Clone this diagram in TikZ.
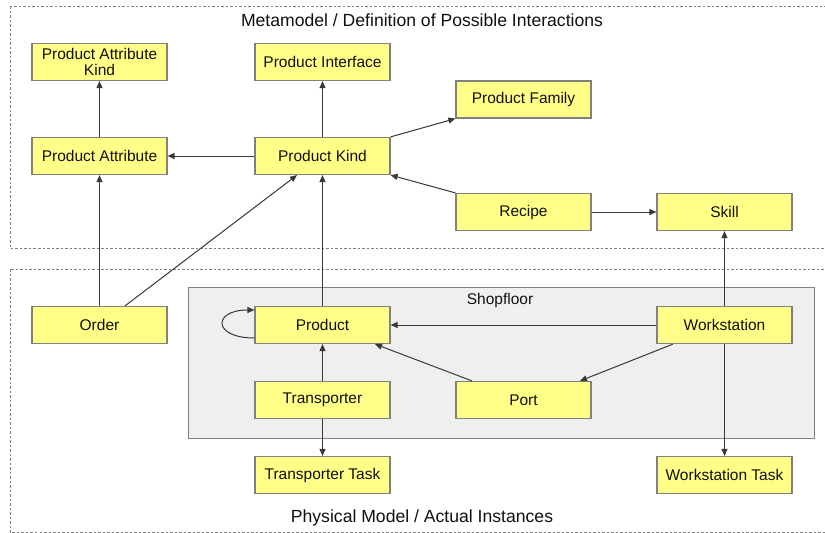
\documentclass[tikz,border=0pt]{standalone}
\usepackage{fontspec}
\setmainfont{Liberation Sans}
\usetikzlibrary{arrows.meta,calc}
\definecolor{boxfill}{HTML}{FFFF88}
\definecolor{boxline}{HTML}{808080}
\definecolor{floorfill}{HTML}{EFEFEF}
\definecolor{lineclr}{HTML}{383838}
\definecolor{txt}{HTML}{111111}
\begin{document}
\begin{tikzpicture}[x=1pt,y=-1pt,
  entity/.style={draw=boxline,line width=1.2pt,fill=boxfill,minimum width=135pt,minimum height=37pt,
    inner sep=1pt,align=center,text=txt,font=\fontsize{15.5}{16}\selectfont},
  arr/.style={draw=lineclr,line width=1pt,-{Triangle[length=7pt,width=6pt]}},
  zone/.style={draw=boxline,line width=1pt,dash pattern=on 2.5pt off 2pt},
  caption/.style={text=txt,font=\fontsize{17.6}{19}\selectfont}]
\useasboundingbox (0,0) rectangle (825,533);
\fill[white] (0,0) rectangle (825,533);

% layers
\draw[zone] (10,6) rectangle (840,248);
\draw[zone] (10,269) rectangle (840,532);
\draw[draw=boxline,line width=1pt,fill=floorfill] (188,287) rectangle (814,438);

\node[caption] (meta) at (422,20) {Metamodel / Definition of Possible Interactions};
\node[caption] (phys) at (422,518) {Physical Model / Actual Instances};
\node[text=txt,font=\fontsize{15.5}{17}\selectfont] (floor) at (500,300) {Shopfloor};

% metamodel entities
\node[entity] (pak) at (99.5,62) {Product Attribute\\Kind};
\node[entity] (pi) at (322.5,62) {Product Interface};
\node[entity] (pf) at (523.5,99.5) {Product Family};
\node[entity] (pa) at (99.5,156) {Product Attribute};
\node[entity] (pk) at (322.5,156) {Product Kind};
\node[entity] (recipe) at (523.5,212) {Recipe};
\node[entity] (skill) at (724.5,212) {Skill};

% instance entities
\node[entity] (order) at (99.5,325) {Order};
\node[entity] (prod) at (322.5,325) {Product};
\node[entity] (ws) at (724.5,325) {Workstation};
\node[entity] (tr) at (322.5,400) {Transporter};
\node[entity] (port) at (523.5,400) {Port};
\node[entity] (tt) at (322.5,475) {Transporter Task};
\node[entity] (wt) at (724.5,475) {Workstation Task};

% metamodel relations
\draw[arr] (pa) -- (pak);
\draw[arr] (pk) -- (pi);
\draw[arr] (pk) -- (pa);
\draw[arr] (pk.north east) -- (pf.south west);
\draw[arr] (recipe.north west) -- (pk.south east);
\draw[arr] (recipe) -- (skill);

% instance relations
\draw[arr] (order) -- (pa);
\draw[arr] ([xshift=25.5pt]order.north) -- ([xshift=-25.5pt]pk.south);
\draw[arr] (prod) -- (pk);
\draw[arr] (ws) -- (prod);
\draw[arr] (ws) -- (skill);
\draw[arr] (ws) -- (wt);
\draw[arr] ([xshift=-51.5pt]ws.south) -- ([xshift=56.5pt]port.north);
\draw[arr] ([xshift=-51.5pt]port.north) -- ([xshift=52.5pt]prod.south);
\draw[arr] (tr) -- (prod);
\draw[arr] (tr) -- (tt);
\draw[arr] ([yshift=-13pt]prod.west) .. controls +(-42,0) and +(-42,0) .. ([yshift=15pt]prod.west);
\end{tikzpicture}
\end{document}
